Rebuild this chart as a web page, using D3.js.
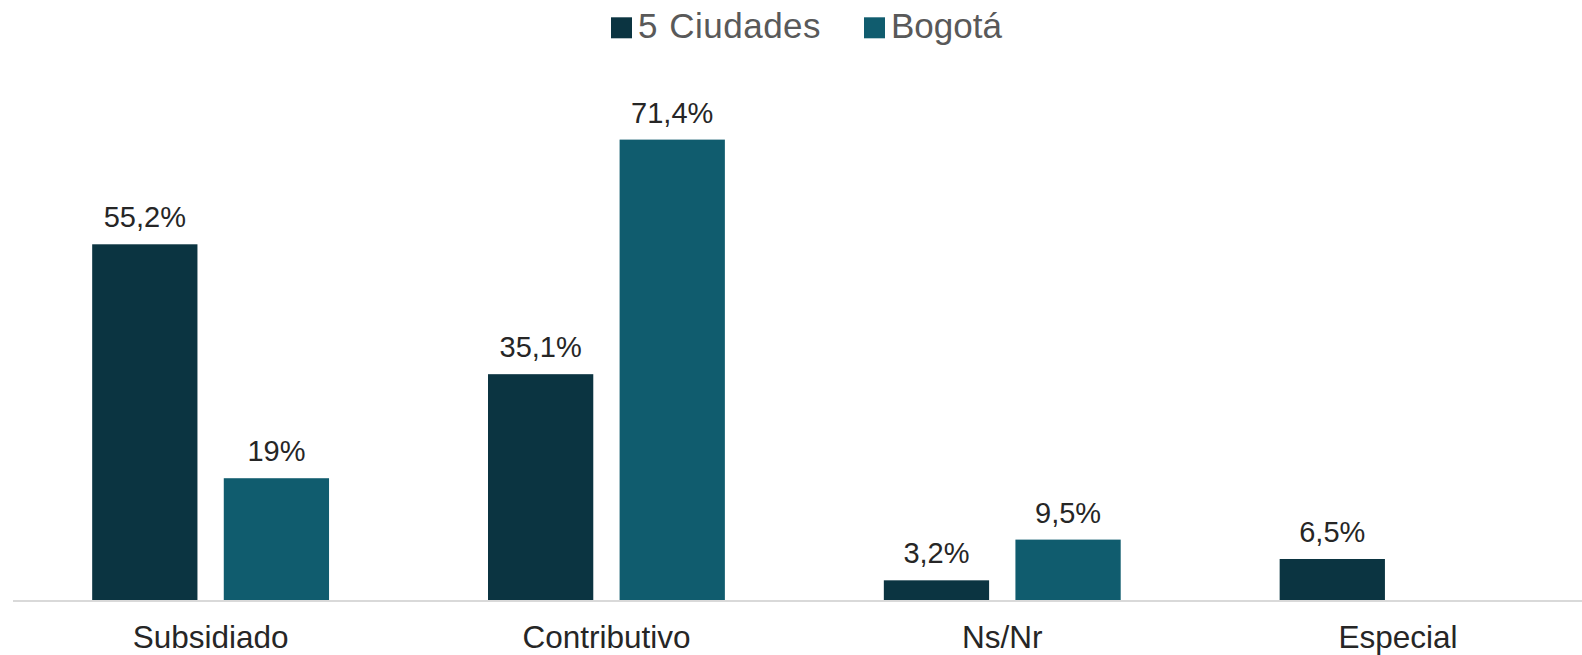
<!DOCTYPE html>
<html>
<head>
<meta charset="utf-8">
<script src="https://cdn.jsdelivr.net/npm/d3@7"></script>
<style>
  body { margin: 0; background: #fff; }
  text { font-family: Arial, "Liberation Sans", sans-serif; }
</style>
</head>
<body>
<svg id="chart" width="1582" height="655"></svg>
<script>
// data
var categories = ["Subsidiado", "Contributivo", "Ns/Nr", "Especial"];
var seriesNames = ["5 Ciudades", "Bogotá"];
var ciudades = [55.2, 35.1, 3.2, 6.5];
var bogota = [19, 71.4, 9.5, null];
var valueLabels5 = ["55,2%", "35,1%", "3,2%", "6,5%"];
var valueLabelsB = ["19%", "71,4%", "9,5%", ""];
var colors = ["#0b3441", "#105c6e"];

var svg = d3.select("#chart");
var baseY = 601;

var x0 = d3.scaleBand()
  .domain(categories)
  .range([12.7, 1596])
  .paddingInner(0)
  .paddingOuter(0);

var x1 = d3.scaleBand()
  .domain(seriesNames)
  .range([0, x0.bandwidth()])
  .paddingInner(0.2)
  .paddingOuter(0.604);

var y = d3.scaleLinear()
  .domain([0, 80])
  .range([baseY, baseY - 80 * 6.462]);

var rows = [];
categories.forEach(function(c, i) {
  rows.push({cat: c, s: seriesNames[0], v: ciudades[i], label: valueLabels5[i], color: colors[0]});
  if (bogota[i] != null) {
    rows.push({cat: c, s: seriesNames[1], v: bogota[i], label: valueLabelsB[i], color: colors[1]});
  }
});

// bars
svg.selectAll(".bar")
  .data(rows)
  .enter().append("rect")
  .attr("class", "bar")
  .attr("x", function(d) { return x0(d.cat) + x1(d.s); })
  .attr("y", function(d) { return y(d.v); })
  .attr("width", x1.bandwidth())
  .attr("height", function(d) { return baseY - y(d.v); })
  .attr("fill", function(d) { return d.color; });

// value labels
svg.selectAll(".vlabel")
  .data(rows)
  .enter().append("text")
  .attr("class", "vlabel")
  .attr("x", function(d) { return x0(d.cat) + x1(d.s) + x1.bandwidth() / 2; })
  .attr("y", function(d) { return y(d.v) - 17; })
  .attr("text-anchor", "middle")
  .attr("font-size", "29px")
  .attr("fill", "#262626")
  .text(function(d) { return d.label; });

// x axis
var axis = svg.append("g")
  .attr("transform", "translate(0," + baseY + ")")
  .call(d3.axisBottom(x0).tickSize(0).tickPadding(0));
axis.select(".domain").remove();
axis.append("line")
  .attr("x1", 13).attr("x2", 1582)
  .attr("y1", 0).attr("y2", 0)
  .attr("stroke", "#d9d9d9")
  .attr("stroke-width", 2);
axis.selectAll(".tick text")
  .attr("y", 47)
  .attr("dy", 0)
  .attr("font-size", "31.5px")
  .attr("font-family", "Arial, 'Liberation Sans', sans-serif")
  .attr("fill", "#262626");

// legend
var legend = svg.append("g");
var lx = [611, 864];
seriesNames.forEach(function(s, i) {
  legend.append("rect")
    .attr("x", lx[i]).attr("y", 17.3)
    .attr("width", 21).attr("height", 21)
    .attr("fill", colors[i]);
  legend.append("text")
    .attr("x", lx[i] + 27)
    .attr("y", 38.3)
    .attr("font-size", "35px")
    .attr("word-spacing", "1px")
    .attr("letter-spacing", i == 0 ? "0.5px" : "0px")
    .attr("fill", "#595959")
    .text(s);
});
</script>
</body>
</html>
